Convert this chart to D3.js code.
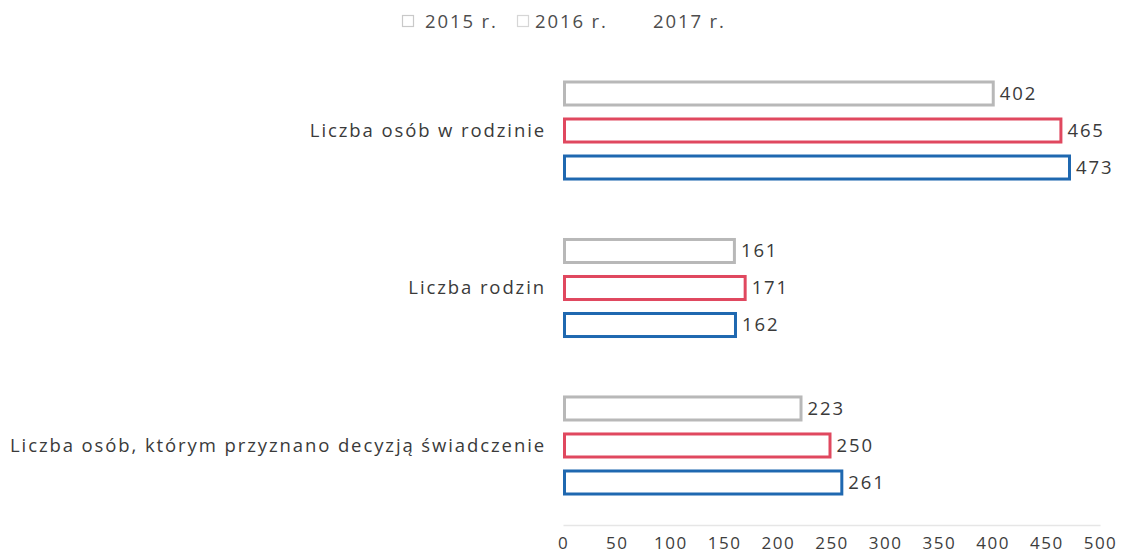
<!DOCTYPE html>
<html>
<head>
<meta charset="utf-8">
<script src="https://cdn.jsdelivr.net/npm/d3@7"></script>
<style>
  html, body { margin: 0; padding: 0; background: #ffffff; }
  svg { display: block; }
  text { font-family: "Open Sans", "Liberation Sans", sans-serif; }
</style>
</head>
<body>
<svg id="chart" width="1122" height="555"></svg>
<script>
const categories = [
  "Liczba osób w rodzinie",
  "Liczba rodzin",
  "Liczba osób, którym przyznano decyzją świadczenie"
];
const seriesNames = ["2015 r.", "2016 r.", "2017 r."];
const values2015 = [402, 161, 223];
const values2016 = [465, 171, 250];
const values2017 = [473, 162, 261];
const xTicks = [0, 50, 100, 150, 200, 250, 300, 350, 400, 450, 500];

const seriesValues = [values2015, values2016, values2017];
const colors = ["#b8b8b8", "#e0485f", "#1f68b0"];
const legendKeyColors = ["#c9c9c9", "#d6d6d6", "#ffffff"];

const svg = d3.select("#chart");
const W = 1122, H = 555;
svg.append("rect").attr("width", W).attr("height", H).attr("fill", "#ffffff");

const x = d3.scaleLinear().domain([0, 500]).range([563, 1100]);
const y0 = d3.scaleBand().domain(categories).range([51.75, 524.25])
  .paddingInner(0.295).paddingOuter(0.1476);
const y1 = d3.scaleBand().domain(seriesNames).range([0, y0.bandwidth()])
  .paddingInner(0.297).paddingOuter(0.1486);

// axis
const axisG = svg.append("g").attr("transform", "translate(0,525)")
  .call(d3.axisBottom(x).tickValues(xTicks).tickSize(0).tickPadding(11.5));
axisG.select(".domain").attr("stroke", "#e6e6e6").attr("stroke-width", 1.5);
axisG.selectAll("text").attr("font-size", 17).attr("fill", "#3d3d3d")
  .attr("letter-spacing", 1.5)
  .attr("font-family", "\"Open Sans\", sans-serif");

// category labels
svg.append("g").selectAll("text").data(categories).join("text")
  .attr("x", 546)
  .attr("y", d => y0(d) + y0.bandwidth() / 2)
  .attr("dy", "0.35em")
  .attr("text-anchor", "end")
  .attr("font-size", 18.5)
  .attr("letter-spacing", 1.9)
  .attr("fill", "#3a3a3a")
  .text(d => d);

// bars
const groups = svg.append("g").selectAll("g").data(categories).join("g")
  .attr("transform", d => `translate(0,${y0(d)})`);

const sw = 3;
groups.selectAll("rect").data((c, ci) => seriesNames.map((s, si) => ({s, si, v: seriesValues[si][ci]})))
  .join("rect")
  .attr("x", x(0) + sw / 2)
  .attr("y", d => y1(d.s) + sw / 2)
  .attr("width", d => x(d.v) - x(0) - sw)
  .attr("height", y1.bandwidth() - sw)
  .attr("fill", "#ffffff")
  .attr("stroke", d => colors[d.si])
  .attr("stroke-width", sw);

groups.selectAll("text.val").data((c, ci) => seriesNames.map((s, si) => ({s, si, v: seriesValues[si][ci]})))
  .join("text")
  .attr("class", "val")
  .attr("x", d => x(d.v) + 5)
  .attr("y", d => y1(d.s) + y1.bandwidth() / 2)
  .attr("dy", "0.35em")
  .attr("font-size", 18.5)
  .attr("letter-spacing", 1.9)
  .attr("fill", "#3a3a3a")
  .text(d => d.v);

// legend
const legendKeyX = [402, 517, 636];
const legendTextX = [425, 535, 653];
const lg = svg.append("g").selectAll("g").data(seriesNames).join("g");
lg.append("rect")
  .attr("x", (d, i) => legendKeyX[i] + 0.5).attr("y", 15.5)
  .attr("width", 11).attr("height", 11)
  .attr("fill", "none").attr("stroke", (d, i) => legendKeyColors[i]).attr("stroke-width", 1.2);
lg.append("text")
  .attr("x", (d, i) => legendTextX[i]).attr("y", 21.5).attr("dy", "0.35em")
  .attr("font-size", 18.5).attr("letter-spacing", 1.9)
  .attr("fill", "#4d4d4d").text(d => d);
</script>
</body>
</html>
